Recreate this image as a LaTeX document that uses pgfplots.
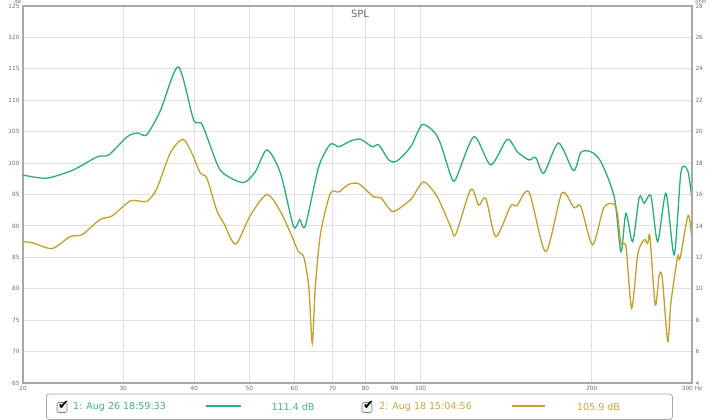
\documentclass[border=0pt]{standalone}
\usepackage{fontspec}
\setmainfont{DejaVu Sans}
\usepackage{pgfplots}
\pgfplotsset{compat=1.18}
\definecolor{spla}{RGB}{40,172,128}
\definecolor{splb}{RGB}{196,160,40}
\definecolor{splat}{RGB}{60,178,138}
\definecolor{splbt}{RGB}{200,166,60}
\definecolor{gridc}{RGB}{224,224,224}
\definecolor{framec}{RGB}{168,168,168}
\definecolor{tickc}{RGB}{110,110,110}
\begin{document}
\begin{tikzpicture}[x=1pt,y=1pt]
\path[use as bounding box] (0,0) rectangle (720,420);
\begin{axis}[
  at={(23pt,37pt)}, anchor=south west, scale only axis,
  width=669pt, height=377pt,
  xmode=log, xmin=20, xmax=300, ymin=65, ymax=125,
  xtick={20,30,40,50,60,70,80,90,100,200,300},
  xticklabels={20,30,40,50,60,70,80,90,100,200,300 Hz},
  minor xtick={}, 
  ytick={65,70,...,125},
  xmajorgrids, ymajorgrids, xminorgrids=false,
  major grid style={gridc, line width=0.9pt},
  axis line style={framec, line width=1.3pt},
  major tick length=0pt,
  /pgf/number format/assume math mode=true,
  tick label style={font=\fontsize{5.8}{6.5}\selectfont, text=tickc},
  xticklabel style={yshift=0.5pt},
  clip=true,
]
\addplot[spla, line width=1.3pt, smooth, tension=0.45] coordinates {
(20,98.1) (22.0,97.6) (24.5,98.9) (27.0,101.0) (28.3,101.3) (30.5,104.2)
(31.8,104.8) (33.0,104.5) (34.9,108.4) (37.5,115.3) (39.9,106.9) (41.3,106.1)
(44.1,99.4) (46.0,97.8) (48.9,96.9) (51.2,98.6) (53.7,102.1) (56.7,98.4)
(59.8,89.9) (61.3,91.0) (62.7,90.0) (66.2,99.4) (69.4,103.0) (71.8,102.6)
(75.3,103.5) (78.4,103.8) (82.2,102.6) (84.4,102.9) (87.9,100.5) (90.3,100.2)
(93.4,101.3) (96.5,102.9) (100.6,106.1) (105.5,105.0) (108.4,103.1) (112.9,98.1)
(115.2,97.4) (124.1,104.2) (132.8,99.7) (142.0,103.8) (147.9,101.8) (155.1,100.5)
(159.3,100.9) (164.7,98.4) (174.7,103.2) (185.7,98.8) (191.3,101.7) (199.2,101.8)
(207.5,100.2) (219,94.6) (225,85.9) (229.6,92.0) (235.9,87.5) (242.4,94.6)
(247.2,93.6) (254.0,94.8) (261.0,87.5) (270.0,95.2) (279.2,85.4) (286.9,98.6)
(294.8,98.8) (299.7,94.6)
};
\addplot[splb, line width=1.3pt, smooth, tension=0.45] coordinates {
(20,87.5) (20.8,87.3) (22.5,86.4) (24.2,88.3) (25.4,88.6) (27.3,91.0)
(28.7,91.6) (30.9,94.0) (33.0,93.9) (34.4,96.0) (36.3,101.6) (38.2,103.8)
(39.6,101.6) (41.0,98.4) (42.1,97.6) (43.8,92.5) (45.1,90.4) (47.3,87.1)
(50.2,91.7) (53.7,95.0) (56.7,92.3) (59.1,88.8) (61.0,85.9) (62.3,85.1)
(63.6,80.3) (64.5,71.3) (65.3,80.3) (66.7,88.8) (69.4,95.2) (71.8,95.4)
(74.7,96.6) (77.9,96.7) (82.7,94.6) (85.1,94.5) (89.1,92.3) (92.8,93.1)
(96.5,94.4) (101.2,97.0) (107.0,94.6) (112.9,89.9) (115.2,88.6) (122.5,95.8)
(126.5,93.3) (130.2,94.4) (135.6,88.3) (144,93.2) (147.6,93.2) (155.1,95.4)
(165.9,85.9) (177.1,95.2) (186.1,92.9) (191.3,93.1) (200.6,87.0) (210.2,93.0)
(220.4,93.1) (225,87.2) (229.6,86.7) (235,76.9) (241,85.6) (247.2,87.8)
(250.7,87.2) (253,88.3) (258.5,77.4) (262.7,82.2) (266,81.7) (271.9,71.6)
(275.4,77.7) (283,85.1) (285.8,84.8) (295.4,91.7) (299.7,88.0)
};
\end{axis}
\begin{axis}[
  at={(23pt,37pt)}, anchor=south west, scale only axis,
  width=669pt, height=377pt,
  xmode=log, xmin=20, xmax=300, ymin=4, ymax=28,
  axis x line=none, axis y line*=right,
  ytick={4,6,...,28},
  axis line style={framec, line width=1.3pt},
  major tick length=0pt,
  /pgf/number format/assume math mode=true,
  tick label style={font=\fontsize{5.8}{6.5}\selectfont, text=tickc},
]
\addplot[draw=none] coordinates {(20,4) (300,28)};
\end{axis}
% title and units
\node[text=tickc, font=\fontsize{10}{11}\selectfont] at (360,406.5) {SPL};
\node[text=tickc, font=\fontsize{5}{6}\selectfont] at (18,418) {dB};
\node[text=tickc, font=\fontsize{5}{6}\selectfont] at (701,418) {ohm};
% legend box
\draw[framec, line width=0.8pt, rounded corners=3pt] (46.5,0.5) rectangle (672.5,26);
% checkbox 1
\draw[gray, line width=0.6pt, fill=gray!8, rounded corners=1.5pt] (57,7.5) rectangle (67,17.5);
\node[font=\fontsize{13}{14}\selectfont, inner sep=0pt, text=black] at (63.5,15) {✔};
\node[anchor=west, text=splat, font=\fontsize{9.5}{10}\selectfont, inner sep=0pt] at (73,13.5) {1: Aug 26 18:59:33};
\draw[spla, line width=2pt] (206,14) -- (241,14);
\node[text=splat, font=\fontsize{9.5}{10}\selectfont, inner sep=0pt] at (293,13.5) {111.4 dB};
% checkbox 2
\draw[gray, line width=0.6pt, fill=gray!8, rounded corners=1.5pt] (362,7.5) rectangle (372,17.5);
\node[font=\fontsize{13}{14}\selectfont, inner sep=0pt, text=black] at (368.5,15) {✔};
\node[anchor=west, text=splbt, font=\fontsize{9.5}{10}\selectfont, inner sep=0pt] at (379,13.5) {2: Aug 18 15:04:56};
\draw[splb, line width=2pt] (512,14) -- (545,14);
\node[text=splbt, font=\fontsize{9.5}{10}\selectfont, inner sep=0pt] at (598.5,13.5) {105.9 dB};
\end{tikzpicture}
\end{document}
